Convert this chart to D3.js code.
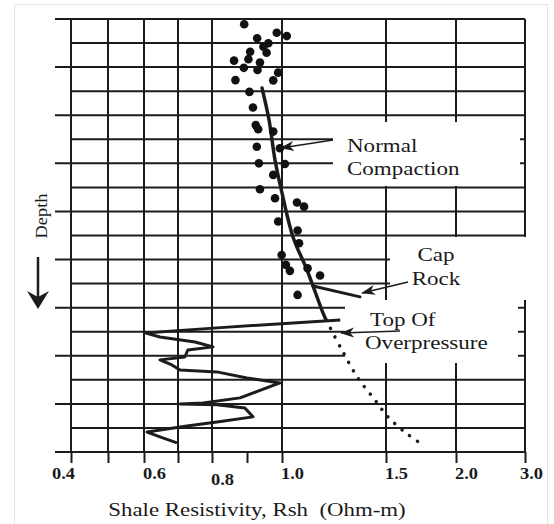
<!DOCTYPE html>
<html><head><meta charset="utf-8">
<script src="https://cdn.jsdelivr.net/npm/d3@7"></script>
<style>
html,body{margin:0;padding:0;background:#fff;}
svg{display:block;}
text{font-family:"Liberation Serif","Times New Roman",serif;fill:#1a1a1a;}
</style></head><body>
<svg id="chart" width="554" height="524"></svg>
<script>
// Shale resistivity (Ohm-m) grid and tick values
const gridValues = [0.4, 0.5, 0.6, 0.7, 0.8, 1.0, 1.5, 2.0, 3.0];
const tickValues = [0.4, 0.5, 0.6, 0.7, 0.8, 0.9, 1.0, 1.5, 2.0, 3.0];
const labelValues = [0.4, 0.6, 0.8, 1.0, 1.5, 2.0, 3.0];
const tickLabels = ["0.4", "0.6", "0.8", "1.0", "1.5", "2.0", "3.0"];
// Depth in grid intervals (0 = top of section)
const depthLines = d3.range(0, 19);

// Shale resistivity readings in the normally compacted section [Rsh, depth]
const shaleDots = [
  [0.892,0.22],[0.929,0.80],[0.985,0.57],[1.023,0.71],[0.961,1.01],[0.947,1.15],
  [0.909,1.36],[0.956,1.40],[0.863,1.73],[0.904,1.67],[0.937,1.81],[0.891,2.03],
  [0.930,2.12],[0.989,2.23],[0.867,2.54],[0.975,2.55],[0.907,3.03],[0.917,3.68],
  [0.925,4.41],[0.932,4.58],[0.975,4.68],[0.928,5.31],[0.994,5.37],[0.934,6.00],
  [1.014,6.03],[0.975,6.48],[0.937,7.08],[0.980,7.45],[1.072,7.63],[1.106,7.80],
  [0.989,8.42],[1.075,8.79],[1.082,9.32],[0.999,9.81],[1.019,10.22],[1.038,10.47],
  [1.123,10.36],[1.183,10.66],[1.075,11.47]
];
// Normal compaction trend and its extrapolation below the seal
const normalTrend = [
  [0.943,2.87],[0.963,4.20],[0.980,5.86],[1.000,7.23],[1.053,9.06],[1.120,10.43],[1.197,12.22],[1.212,12.51]
];
const trendExtrapolated = [
  [1.212,12.51],[1.288,13.76],[1.365,14.92],[1.447,15.84],[1.514,16.54],[1.643,17.21],[1.764,17.71]
];
// Resistivity log through the cap rock and the overpressured shale
const capRockLog = [[1.149,11.10],[1.375,11.55]];
const overpressureLog = [
  [1.280,12.51],[0.814,12.84],[0.603,13.05],[0.647,13.22],[0.750,13.43],[0.803,13.63],
  [0.729,13.76],[0.720,14.05],[0.647,14.17],[0.682,14.38],[0.706,14.59],[0.814,14.67],
  [0.900,14.92],[0.994,15.13],[0.880,15.75],[0.774,15.96],[0.706,16.00],[0.814,16.04],
  [0.894,16.17],[0.917,16.54],[0.814,16.75],[0.726,16.92],[0.609,17.17],[0.647,17.37],
  [0.697,17.62]
];
// Callouts: arrow tail and head in [Rsh, depth]
const callouts = [
  {lines: ["Normal", "Compaction"], from: [1.245,5.03], to: [0.997,5.36]},
  {lines: ["Cap", "Rock"], from: [1.657,10.93], to: [1.385,11.39]},
  {lines: ["Top Of", "Overpressure"], from: [1.600,12.97], to: [1.284,13.05]}
];

const svg = d3.select("#chart");
const ink = "#1c1c1c";

// Hand-scaled resistivity axis: compressed above 1.0
const x = d3.scaleLinear().domain(tickValues)
  .range([71, 108, 144, 178, 212, 247, 282, 386, 456, 525]);
const y = d3.scaleLinear().domain([0, 18]).range([19, 452]);

// outer frame of the figure
svg.append("rect").attr("x", 14.5).attr("y", 4.5).attr("width", 533).attr("height", 530)
  .attr("fill", "none").attr("stroke", "#e4e4e4").attr("stroke-width", 1);

// grid
const grid = svg.append("g").attr("stroke", ink).attr("stroke-width", 2);
grid.selectAll("line.h").data(depthLines).join("line").attr("class", "h")
  .attr("x1", d => d % 2 === 0 ? 55 : x(0.4)).attr("x2", x(3.0))
  .attr("y1", d => y(d)).attr("y2", d => y(d));
grid.selectAll("line.v").data(gridValues).join("line").attr("class", "v")
  .attr("x1", d => x(d)).attr("x2", d => x(d))
  .attr("y1", y(0)).attr("y2", y(18));

// ticks below the bottom line
const axis = d3.axisBottom(x).tickValues(tickValues).tickSize(11).tickSizeOuter(0).tickFormat("");
const axG = svg.append("g").attr("transform", `translate(0,${y(18)})`).call(axis);
axG.select(".domain").remove();
axG.selectAll(".tick line").attr("stroke", ink).attr("stroke-width", 2);

// tick labels
const labelShift = {"0.4": -19, "3.0": -5};
svg.append("g").selectAll("text").data(labelValues).join("text")
  .attr("transform", (d, i) => {
    const t = tickLabels[i];
    const dx = labelShift[t] !== undefined ? labelShift[t] : -1;
    const yy = t === "0.8" ? 485 : 479;
    return `translate(${x(d) + dx},${yy}) scale(1.15,1)`;
  })
  .attr("font-size", 16).attr("font-weight", "bold").attr("fill", "#333")
  .text((d, i) => tickLabels[i]);

// white panels behind the callout text
const panels = [
  {x: 333, y: 122, w: 187, h: 64},
  {x: 390, y: 237, w: 142, h: 63},
  {x: 345, y: 300, w: 173, h: 63}
];
svg.append("g").selectAll("rect").data(panels).join("rect")
  .attr("x", d => d.x).attr("y", d => d.y).attr("width", d => d.w).attr("height", d => d.h)
  .attr("fill", "#fff");

// data
const line = d3.line().x(d => x(d[0])).y(d => y(d[1]));
svg.append("path").datum(normalTrend)
  .attr("d", line.curve(d3.curveCatmullRom)).attr("fill", "none")
  .attr("stroke", ink).attr("stroke-width", 3.5).attr("stroke-linecap", "round");
svg.append("path").datum(trendExtrapolated)
  .attr("d", line.curve(d3.curveCatmullRom)).attr("fill", "none")
  .attr("stroke", ink).attr("stroke-width", 3.5).attr("stroke-linecap", "round")
  .attr("stroke-dasharray", "0.1 9.5");
const logLine = d3.line().x(d => x(d[0])).y(d => y(d[1])).curve(d3.curveLinear);
svg.append("path").datum(capRockLog).attr("d", logLine).attr("fill", "none")
  .attr("stroke", ink).attr("stroke-width", 3).attr("stroke-linecap", "round");
svg.append("path").datum(overpressureLog).attr("d", logLine).attr("fill", "none")
  .attr("stroke", ink).attr("stroke-width", 3).attr("stroke-linejoin", "round");
svg.append("g").selectAll("circle").data(shaleDots).join("circle")
  .attr("cx", d => x(d[0])).attr("cy", d => y(d[1])).attr("r", 4.3).attr("fill", "#111");

// callout arrows
svg.append("defs").append("marker").attr("id", "head")
  .attr("viewBox", "0 -6 14 12").attr("refX", 13).attr("refY", 0)
  .attr("markerUnits", "userSpaceOnUse").attr("markerWidth", 14).attr("markerHeight", 12)
  .attr("orient", "auto")
  .append("path").attr("d", "M0,-5 L14,0 L0,5 L4,0 Z").attr("fill", ink);
svg.append("g").selectAll("line").data(callouts).join("line")
  .attr("x1", d => x(d.from[0])).attr("y1", d => y(d.from[1]))
  .attr("x2", d => x(d.to[0])).attr("y2", d => y(d.to[1]))
  .attr("stroke", ink).attr("stroke-width", 1.6).attr("marker-end", "url(#head)");

// callout text
const calloutPos = [
  [{x: 347, y: 152, a: "start"}, {x: 347, y: 175, a: "start"}],
  [{x: 436, y: 261, a: "middle"}, {x: 436, y: 285, a: "middle"}],
  [{x: 370, y: 326, a: "start"}, {x: 365, y: 349, a: "start"}]
];
callouts.forEach((c, i) => {
  c.lines.forEach((t, j) => {
    const p = calloutPos[i][j];
    svg.append("text").attr("transform", `translate(${p.x},${p.y}) scale(1.28,1)`)
      .attr("text-anchor", p.a).attr("font-size", 18).attr("fill", "#333").text(t);
  });
});

// depth label and arrow
svg.append("text").attr("transform", "translate(47,216) rotate(-90) scale(1.15,1)")
  .attr("text-anchor", "middle").attr("font-size", 16).attr("fill", "#222").text("Depth");
svg.append("line").attr("x1", 38).attr("x2", 38).attr("y1", 257).attr("y2", 298)
  .attr("stroke", ink).attr("stroke-width", 2.5);
svg.append("path").attr("d", "M38,309 L27,291 L38,297 L49,291 Z").attr("fill", ink);

// axis title
svg.append("text").attr("transform", "translate(257,516) scale(1.27,1)")
  .attr("text-anchor", "middle").attr("font-size", 18).attr("fill", "#333")
  .style("white-space", "pre").text("Shale Resistivity, Rsh  (Ohm-m)");
</script>
</body></html>
